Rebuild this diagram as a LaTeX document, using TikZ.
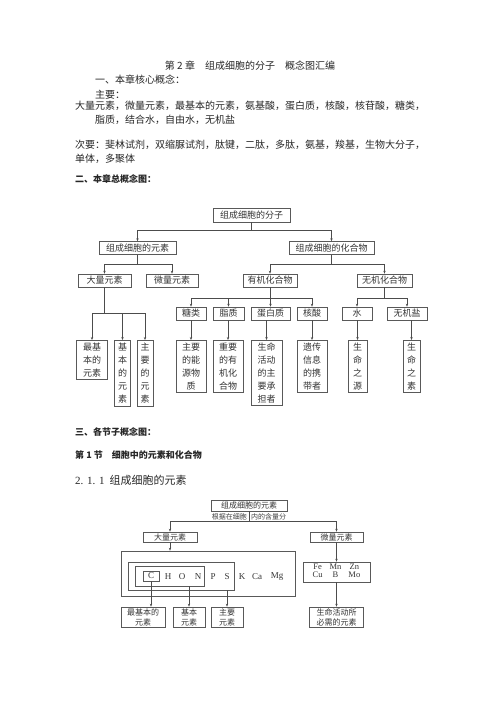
\documentclass[tikz,border=0pt]{standalone}
\usepackage{fontspec}
\setmainfont{Noto Sans CJK SC}
\newfontfamily\latin{Liberation Serif}
\usetikzlibrary{arrows.meta}

\begin{document}
\begin{tikzpicture}[x=1pt, y=-1pt,
  box/.style={draw=black!65, line width=0.6pt, inner sep=0pt, align=center, text=black!80, font=\fontsize{9}{13}\selectfont},
  sbox/.style={box, font=\fontsize{8}{10}\selectfont},
  ln/.style={draw=black!70, line width=0.5pt},
  arr/.style={ln, -{Stealth[length=3pt,width=2.4pt]}},
  txt/.style={anchor=base west, inner sep=0pt, text=black!85, font=\fontsize{10}{12}\selectfont},
  elt/.style={inner sep=0pt, text=black!80, font=\latin\fontsize{9}{10}\selectfont},
  note/.style={inner sep=0pt, text=black!75, font=\fontsize{7}{8}\selectfont}]
\useasboundingbox (0,0) rectangle (500,708);

% page text
\node[txt, anchor=base] (title) at (250,70) {第 2 章\quad 组成细胞的分子\quad 概念图汇编};
\node[txt] (core) at (95,84) {一、本章核心概念：};
\node[txt] (main) at (95,99) {主要：};
\node[txt] (mainA) at (75,110) {大量元素，微量元素，最基本的元素，氨基酸，蛋白质，核酸，核苷酸，糖类，};
\node[txt] (mainB) at (95,124) {脂质，结合水，自由水，无机盐};
\node[txt] (minorA) at (75,149) {次要：斐林试剂，双缩脲试剂，肽键，二肽，多肽，氨基，羧基，生物大分子，};
\node[txt] (minorB) at (75,163) {单体，多聚体};
\node[txt, font=\bfseries\fontsize{9}{11}\selectfont] (sec2) at (75,183) {二、本章总概念图：};

% chapter map
\node[box, minimum width=77, minimum height=14] (mol) at (251.5,215) {组成细胞的分子};
\node[box, minimum width=77, minimum height=13] (elem) at (137.5,248) {组成细胞的元素};
\node[box, minimum width=85, minimum height=13] (comp) at (331.5,248) {组成细胞的化合物};
\node[box, minimum width=53, minimum height=13] (big) at (104.5,280.5) {大量元素};
\node[box, minimum width=52, minimum height=13] (trace) at (172,280.5) {微量元素};
\node[box, minimum width=54, minimum height=13] (org) at (270,280.5) {有机化合物};
\node[box, minimum width=55, minimum height=13] (inorg) at (384.5,280.5) {无机化合物};
\node[box, minimum width=30, minimum height=13] (sugar) at (191,313.5) {糖类};
\node[box, minimum width=31, minimum height=13] (lipid) at (228.5,313.5) {脂质};
\node[box, minimum width=39, minimum height=13] (prot) at (270.5,313.5) {蛋白质};
\node[box, minimum width=30, minimum height=13] (nucl) at (312,313.5) {核酸};
\node[box, minimum width=30, minimum height=13] (water) at (357,313.5) {水};
\node[box, minimum width=40, minimum height=13] (salt) at (407,313.5) {无机盐};

\node[box, anchor=north, minimum width=31, minimum height=39] (most) at (92,340) {最基\\本的\\元素};
\node[box, anchor=north, minimum width=16, minimum height=66] (basic) at (122.5,340) {基\\本\\的\\元\\素};
\node[box, anchor=north, minimum width=16, minimum height=66] (major) at (145,340) {主\\要\\的\\元\\素};
\node[box, anchor=north, minimum width=30, minimum height=52] (energy) at (191,340) {主要\\的能\\源物\\质};
\node[box, anchor=north, minimum width=30, minimum height=52] (orgcpd) at (228,340) {重要\\的有\\机化\\合物};
\node[box, anchor=north, minimum width=31, minimum height=65] (life) at (266.5,340) {生命\\活动\\的主\\要承\\担者};
\node[box, anchor=north, minimum width=30, minimum height=52] (gene) at (312,340) {遗传\\信息\\的携\\带者};
\node[box, anchor=north, minimum width=19, minimum height=52] (source) at (357.5,340) {生\\命\\之\\源};
\node[box, anchor=north, minimum width=17, minimum height=52] (stuff) at (411.5,340) {生\\命\\之\\素};

\draw[ln] (mol.south) -- ++(0,8) coordinate (molsplit);
\draw[arr] (molsplit) -| (elem.north);
\draw[arr] (molsplit) -| (comp.north);
\draw[ln] (elem.south) -- ++(0,9.5) coordinate (elemsplit);
\draw[arr] (elemsplit) -| (big.north);
\draw[arr] (elemsplit) -| (trace.north);
\draw[ln] (comp.south) -- ++(0,9.5) coordinate (compsplit);
\draw[arr] (compsplit) -| (org.north);
\draw[arr] (compsplit) -| (inorg.north);
\draw[ln] (big.south) -- ++(0,26) coordinate (bigsplit);
\draw[arr] (bigsplit) -| (most.north);
\draw[arr] (bigsplit) -| (basic.north);
\draw[arr] (bigsplit) -| (major.north);
\draw[ln] (org.south) -- ++(0,11) coordinate (orgsplit);
\draw[arr] (orgsplit) -| (sugar.north);
\draw[arr] (orgsplit) -| (lipid.north);
\draw[arr] (orgsplit) -| (prot.north);
\draw[arr] (orgsplit) -| (nucl.north);
\draw[ln] (inorg.south) -- ++(0,11) coordinate (inorgsplit);
\draw[arr] (inorgsplit) -| (water.north);
\draw[arr] (inorgsplit) -| (salt.north);
\draw[arr] (sugar.south) -- (energy.north);
\draw[arr] (orgcpd.north |- lipid.south) -- (orgcpd.north);
\draw[arr] (life.north |- prot.south) -- (life.north);
\draw[arr] (nucl.south) -- (gene.north);
\draw[arr] (source.north |- water.south) -- (source.north);
\draw[arr] (stuff.north |- salt.south) -- (stuff.north);

% section text
\node[txt, font=\bfseries\fontsize{9}{11}\selectfont] (sec3) at (75,435) {三、各节子概念图：};
\node[txt, font=\bfseries\fontsize{9}{11}\selectfont] (part1) at (75,458) {第 1 节\quad 细胞中的元素和化合物};
\node[txt, font=\fontsize{11}{13}\selectfont] (sub1) at (75,484) {{\latin 2. 1. 1}\hspace{5pt}组成细胞的元素};

% section map
\node[sbox, minimum width=76, minimum height=11] (elem2) at (249,505.5) {组成细胞的元素};
\node[note, anchor=east] (noteA) at (247,517) {根据在细胞};
\node[note, anchor=west] (noteB) at (251,517) {内的含量分};
\node[sbox, minimum width=54, minimum height=10] (big2) at (170,537) {大量元素};
\node[sbox, minimum width=53, minimum height=10] (trace2) at (336.5,537) {微量元素};

\node[draw=black!65, line width=0.6pt, minimum width=174, minimum height=45] (outer) at (208,573.5) {};
\node[draw=black!65, line width=0.6pt, minimum width=106, minimum height=28] (in1) at (181,576) {};
\node[draw=black!65, line width=0.6pt, minimum width=69, minimum height=20] (in2) at (169.5,576) {};
\node[draw=black!65, line width=0.6pt, elt, minimum width=16, minimum height=10] (cbox) at (151,576) {C};
\node[elt] (eH) at (168,577) {H};
\node[elt] (eO) at (182,577) {O};
\node[elt] (eN) at (198,577) {N};
\node[elt] (eP) at (213,577) {P};
\node[elt] (eS) at (227,577) {S};
\node[elt] (eK) at (242,577) {K};
\node[elt] (eCa) at (257,577) {Ca};
\node[elt] (eMg) at (277,577) {Mg};
\node[sbox, minimum width=67, minimum height=20, font=\latin\fontsize{8.5}{9.5}\selectfont] (fe) at (336.5,572)
  {\begin{tabular}{@{}c@{\hspace{7pt}}c@{\hspace{7pt}}c@{}}Fe & Mn & Zn\\[-1.5pt] Cu & B & Mo\end{tabular}};

\node[sbox, minimum width=44, minimum height=20] (most2) at (143,617) {最基本的\\元素};
\node[sbox, minimum width=32, minimum height=20] (basic2) at (189,617) {基本\\元素};
\node[sbox, minimum width=32, minimum height=20] (major2) at (227,617) {主要\\元素};
\node[sbox, minimum width=54, minimum height=20] (need) at (336.5,617) {生命活动所\\必需的元素};

\draw[ln] (elem2.south) -- ++(0,10) coordinate (elem2split);
\draw[arr] (elem2split) -| (big2.north);
\draw[arr] (elem2split) -| (trace2.north);
\draw[arr] (big2.south) -- (big2.south |- outer.north);
\draw[arr] (cbox.south) -- (cbox.south |- most2.north);
\draw[arr] (basic2.north |- in2.south) -- (basic2.north);
\draw[arr] (major2.north |- in1.south) -- (major2.north);
\draw[arr] (trace2.south) -- (fe.north);
\draw[arr] (fe.south) -- (need.north);
\end{tikzpicture}
\end{document}
